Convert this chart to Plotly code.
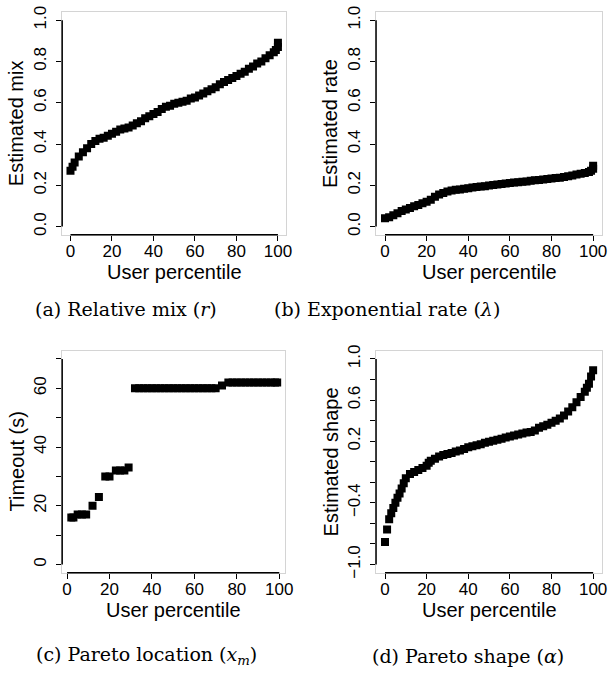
import plotly.graph_objects as go

W, H = 616, 675

# (a) relative mix
mix_pct = [0, 1, 2, 4, 6, 8, 10, 12, 14, 16, 18, 20, 22, 24, 26, 28, 30, 32, 34, 36, 38,
           40, 42, 44, 46, 48, 50, 52, 54, 56, 58, 60, 62, 64, 66, 68, 70, 72, 74, 76, 78,
           80, 82, 84, 86, 88, 90, 92, 94, 96, 98, 99, 100, 100]
mix_val = [0.27, 0.29, 0.31, 0.34, 0.36, 0.38, 0.40, 0.415, 0.425, 0.43, 0.44, 0.45, 0.46,
           0.47, 0.475, 0.48, 0.49, 0.50, 0.51, 0.525, 0.535, 0.545, 0.555, 0.57, 0.58,
           0.585, 0.595, 0.60, 0.605, 0.61, 0.62, 0.625, 0.635, 0.645, 0.655, 0.665, 0.675,
           0.69, 0.70, 0.71, 0.72, 0.73, 0.74, 0.75, 0.765, 0.775, 0.79, 0.80, 0.815, 0.83,
           0.845, 0.855, 0.87, 0.89]

# (b) exponential rate
rate_pct = [0, 2, 4, 6, 8, 10, 12, 14, 16, 18, 20, 22, 24, 26, 28, 30, 32, 34, 36, 38,
            40, 42, 44, 46, 48, 50, 52, 54, 56, 58, 60, 62, 64, 66, 68, 70, 72, 74, 76, 78,
            80, 82, 84, 86, 88, 90, 92, 94, 96, 98, 99, 100, 100]
rate_val = [0.04, 0.045, 0.055, 0.065, 0.075, 0.083, 0.09, 0.098, 0.105, 0.113, 0.12, 0.13,
            0.145, 0.155, 0.163, 0.17, 0.175, 0.178, 0.18, 0.183, 0.186, 0.189, 0.192, 0.194,
            0.196, 0.199, 0.202, 0.204, 0.206, 0.209, 0.211, 0.213, 0.215, 0.217, 0.219,
            0.222, 0.224, 0.226, 0.228, 0.231, 0.233, 0.235, 0.237, 0.24, 0.244, 0.248,
            0.252, 0.256, 0.26, 0.265, 0.27, 0.28, 0.295]

# (c) pareto location / timeout (s)
loc_pct = [2, 3, 5, 7, 9, 12, 15, 18, 20, 23, 25, 27, 29,
           32, 34, 36, 38, 40, 42, 44, 46, 48, 50, 52, 54, 56, 58, 60, 62, 64, 66, 68, 70,
           73, 76, 78, 80, 82, 84, 86, 88, 90, 92, 94, 96, 98, 99]
loc_val = [16, 16, 17, 17, 17, 20, 23, 30, 30, 32, 32, 32, 33,
           60, 60, 60, 60, 60, 60, 60, 60, 60, 60, 60, 60, 60, 60, 60, 60, 60, 60, 60, 60,
           61, 62, 62, 62, 62, 62, 62, 62, 62, 62, 62, 62, 62, 62]

# (d) pareto shape
shape_pct = [0, 1, 2, 3, 4, 5, 6, 7, 8, 9, 10, 12, 14, 16, 18, 20, 21, 22, 24, 26, 28, 30,
             32, 34, 36, 38, 40, 42, 44, 46, 48, 50, 52, 54, 56, 58, 60, 62, 64, 66, 68, 70,
             72, 74, 76, 78, 80, 82, 84, 86, 88, 90, 92, 94, 96, 97, 98, 99, 100]
shape_val = [-0.78, -0.66, -0.56, -0.50, -0.45, -0.40, -0.35, -0.31, -0.26, -0.21, -0.16,
             -0.12, -0.10, -0.08, -0.06, -0.04, -0.01, 0.01, 0.03, 0.05, 0.065, 0.075, 0.085,
             0.10, 0.11, 0.125, 0.14, 0.15, 0.16, 0.17, 0.185, 0.195, 0.205, 0.215, 0.225,
             0.235, 0.245, 0.255, 0.265, 0.275, 0.285, 0.29, 0.305, 0.33, 0.345, 0.36, 0.38,
             0.40, 0.42, 0.45, 0.49, 0.53, 0.58, 0.63, 0.68, 0.72, 0.76, 0.83, 0.89]

x_ticks = [0, 20, 40, 60, 80, 100]
unit_ticks = [0.0, 0.2, 0.4, 0.6, 0.8, 1.0]
unit_text = ["0.0", "0.2", "0.4", "0.6", "0.8", "1.0"]
loc_ticks = [0, 20, 40, 60]
loc_text = ["0", "20", "40", "60"]
loc_minor = [10, 30, 50, 70]
shape_ticks = [-1.0, -0.4, 0.2, 0.6, 1.0]
shape_text = ["\u22121.0", "\u22120.4", "0.2", "0.6", "1.0"]
shape_minor = [-0.8, -0.6, -0.2, 0.0, 0.4, 0.8]

SANS = "Liberation Sans, Arial, sans-serif"
SERIF = "DejaVu Serif, serif"

# panel boxes in pixels: left, right, top, bottom
panels = [
    dict(box=(63, 290, 6, 233), x=mix_pct, y=mix_val, xr=[-4, 104], yr=[-0.04, 1.04],
         yt=unit_ticks, ytt=unit_text, ym=[], yl=(0.0, 1.0), ytitle="Estimated mix",
         cap="(a) Relative mix (<i>r</i>)", capxy=(128, 308)),
    dict(box=(381, 610, 6, 233), x=rate_pct, y=rate_val, xr=[-4.3, 104.3], yr=[-0.04, 1.04],
         yt=unit_ticks, ytt=unit_text, ym=[], yl=(0.0, 1.0), ytitle="Estimated rate",
         cap="(b) Exponential rate (<i>λ</i>)", capxy=(392, 308)),
    dict(box=(63, 289, 351, 577), x=loc_pct, y=loc_val, xr=[-2.3, 102.8], yr=[-2.8, 72.8],
         yt=loc_ticks, ytt=loc_text, ym=loc_minor, yl=(0, 70), ytitle="Timeout (s)",
         cap="(c) Pareto location (<i>x<sub>m</sub></i>)", capxy=(148, 661)),
    dict(box=(381, 610, 351, 577), x=shape_pct, y=shape_val, xr=[-4.3, 104.3], yr=[-1.08, 1.08],
         yt=shape_ticks, ytt=shape_text, ym=shape_minor, yl=(-1.0, 1.0), ytitle="Estimated shape",
         cap="(d) Pareto shape (<i>α</i>)", capxy=(474, 662)),
]

fig = go.Figure()
shapes = []
annotations = []

for i, p in enumerate(panels, start=1):
    sfx = "" if i == 1 else str(i)
    l, r, t, b = p["box"]
    fig.add_trace(go.Scatter(
        x=p["x"], y=p["y"], mode="markers",
        marker=dict(symbol="square", size=8, color="black", line=dict(width=0)),
        xaxis="x" + sfx, yaxis="y" + sfx, showlegend=False, hoverinfo="skip",
    ))

    axis_common = dict(
        showgrid=False, zeroline=False, showline=True, linecolor="#d4d4d4", linewidth=1,
        mirror=True, ticks="outside", ticklen=5, tickwidth=1, tickcolor="black",
        tickfont=dict(family=SANS, size=17, color="black"),
    )
    yaxis = dict(axis_common, domain=[1 - b / H, 1 - t / H], range=p["yr"],
                 anchor="x" + sfx, tickvals=p["yt"], ticktext=p["ytt"],
                 tickangle=-90, ticklabelstandoff=3)
    if p["ym"]:
        yaxis["minor"] = dict(tickvals=p["ym"], ticks="outside", ticklen=5, tickwidth=1,
                              tickcolor="black", showgrid=False)
    fig.update_layout(**{
        "xaxis" + sfx: dict(axis_common, domain=[l / W, r / W], range=p["xr"],
                            anchor="y" + sfx, tickvals=x_ticks, ticklabelstandoff=-4),
        "yaxis" + sfx: yaxis,
    })

    # R-style black axis lines, spanning only the tick range
    shapes.append(dict(type="line", xref="x" + sfx, yref="y" + sfx + " domain",
                       x0=0, x1=100, y0=0, y1=0, line=dict(color="black", width=1.5)))
    shapes.append(dict(type="line", xref="x" + sfx + " domain", yref="y" + sfx,
                       x0=0, x1=0, y0=p["yl"][0], y1=p["yl"][1],
                       line=dict(color="black", width=1.5)))

    # axis titles
    annotations.append(dict(
        text="User percentile", xref="x" + sfx, yref="paper", x=50,
        y=1 - (b + 38) / H, xanchor="center", yanchor="middle", showarrow=False,
        font=dict(family=SANS, size=20, color="black"),
    ))
    annotations.append(dict(
        text=p["ytitle"], xref="paper", yref="paper", x=(l - 46) / W,
        y=1 - (t + b) / 2 / H, xanchor="center", yanchor="middle", textangle=-90,
        showarrow=False, font=dict(family=SANS, size=20, color="black"),
    ))
    # sub-figure caption
    cx, cy = p["capxy"]
    annotations.append(dict(
        text=p["cap"], xref="paper", yref="paper", x=cx / W, y=1 - cy / H,
        xanchor="center", yanchor="middle", showarrow=False,
        font=dict(family=SERIF, size=19, color="black"),
    ))

fig.update_layout(
    width=W, height=H,
    margin=dict(l=0, r=0, t=0, b=0),
    paper_bgcolor="white", plot_bgcolor="white",
    shapes=shapes, annotations=annotations,
)

fig.write_html("out.html", config={"displayModeBar": False},
               post_script="document.body.style.margin='0';")
